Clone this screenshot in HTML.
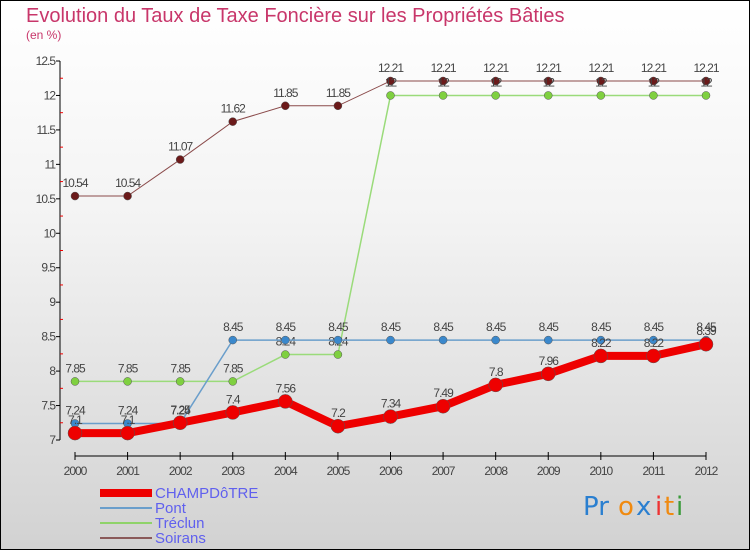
<!DOCTYPE html>
<html><head><meta charset="utf-8"><style>
body{margin:0}
#c{width:750px;height:550px;position:relative;box-sizing:border-box;border:1px solid #000;background:linear-gradient(#fff,#f3f3f3 40%,#d2d2d2);font-family:"Liberation Sans",sans-serif;overflow:hidden}
</style></head><body>
<div id="c">
<svg id="s" width="750" height="550" style="position:absolute;left:-1px;top:-1px">
<text x="26" y="22" font-size="20" fill="#c8366a">Evolution du Taux de Taxe Foncière sur les Propriétés Bâties</text>
<text x="26" y="39" font-size="12" fill="#c8366a">(en %)</text>
<g id="ax"></g><g id="series"></g>
<g>
<rect x="100" y="489" width="52" height="8" fill="#e00"/>
<text x="155" y="498" font-size="15" fill="#6060ee">CHAMPDôTRE</text>
<line x1="100" y1="508" x2="152" y2="508" stroke="#6a9ecb" stroke-width="2"/>
<text x="155" y="513" font-size="15" fill="#6060ee">Pont</text>
<line x1="100" y1="523" x2="152" y2="523" stroke="#8fd36a" stroke-width="2"/>
<text x="155" y="528" font-size="15" fill="#6060ee">Tréclun</text>
<line x1="100" y1="538" x2="152" y2="538" stroke="#8a5a5a" stroke-width="2"/>
<text x="155" y="543" font-size="15" fill="#6060ee">Soirans</text>
</g>
<g font-size="26" font-family="DejaVu Sans, sans-serif">
<text x="583" y="515" fill="#2a7fd0">Pr</text><text x="618" y="515" fill="#f08a10">o</text><text x="636" y="515" fill="#2a7fd0">x</text><text x="655" y="515" fill="#e33">i</text><text x="664" y="515" fill="#f08a10">t</text><text x="676" y="515" fill="#3a9a3a">i</text>
</g>
</svg>
</div>
<script>
const years=["2000","2001","2002","2003","2004","2005","2006","2007","2008","2009","2010","2011","2012"];
const yTicks=[7,7.5,8,8.5,9,9.5,10,10.5,11,11.5,12,12.5];
const champ=[7.1,7.1,7.25,7.4,7.56,7.2,7.34,7.49,7.8,7.96,8.22,8.22,8.39];
const pont=[7.24,7.24,7.24,8.45,8.45,8.45,8.45,8.45,8.45,8.45,8.45,8.45,8.45];
const treclun=[7.85,7.85,7.85,7.85,8.24,8.24,12,12,12,12,12,12,12];
const soirans=[10.54,10.54,11.07,11.62,11.85,11.85,12.21,12.21,12.21,12.21,12.21,12.21,12.21];
const NS="http://www.w3.org/2000/svg";
const X=i=>75+i*(631/12), Y=v=>440-(v-7)*(379/5.5);
function mk(t,a,p){const e=document.createElementNS(NS,t);for(const k in a)e.setAttribute(k,a[k]);p.appendChild(e);return e;}
const ax=document.getElementById('ax'),sg=document.getElementById('series');
let l=mk('line',{x1:60,y1:Y(12.5),x2:60,y2:Y(7),stroke:'#000'},ax);


yTicks.forEach((v,i)=>{mk('line',{x1:56,x2:60,y1:Y(v),y2:Y(v),stroke:'#000'},ax);
 if(i<yTicks.length-1)mk('line',{x1:60,x2:63,y1:Y(v+0.25),y2:Y(v+0.25),stroke:'#e00'},ax);
 const t=mk('text',{x:55,y:Y(v)+4,'font-size':12,fill:'#444','text-anchor':'end','letter-spacing':'-1'},ax);t.textContent=String(v);
 
 });
l=mk('line',{x1:X(0),y1:456,x2:X(12),y2:456,stroke:'#000'},ax);


years.forEach((y,i)=>{mk('line',{x1:X(i),x2:X(i),y1:452,y2:460,stroke:'#000'},ax);
 const t=mk('text',{x:X(i),y:475,'font-size':12,fill:'#444','text-anchor':'middle','letter-spacing':'-1'},ax);t.textContent=y;
 
 });
function series(d,name,col,w,r,dot){const g=mk('g',{},sg);
 
 
 mk('polyline',{points:d.map((v,i)=>X(i)+','+Y(v)).join(' '),fill:'none',stroke:col,'stroke-width':w},g);
 d.forEach((v,i)=>{const c=mk('circle',{cx:X(i),cy:Y(v),r:r,fill:dot,stroke:'#555','stroke-width':0.5},g);
  
  
  const t=mk('text',{x:X(i),y:Y(v)-9,'font-size':12,fill:'#444','text-anchor':'middle','letter-spacing':'-1'},g);t.textContent=String(v);});}
series(soirans,'soirans','#8a4a4a',1,4,'#6b1a1a');
series(treclun,'treclun','#9adb7a',1.5,4,'#7fd040');
series(pont,'pont','#6a9ecb',1.5,4,'#3a88cc');
series(champ,'champdotre','#ee0000',8,7,'#ee0000');
</script>
</body></html>
